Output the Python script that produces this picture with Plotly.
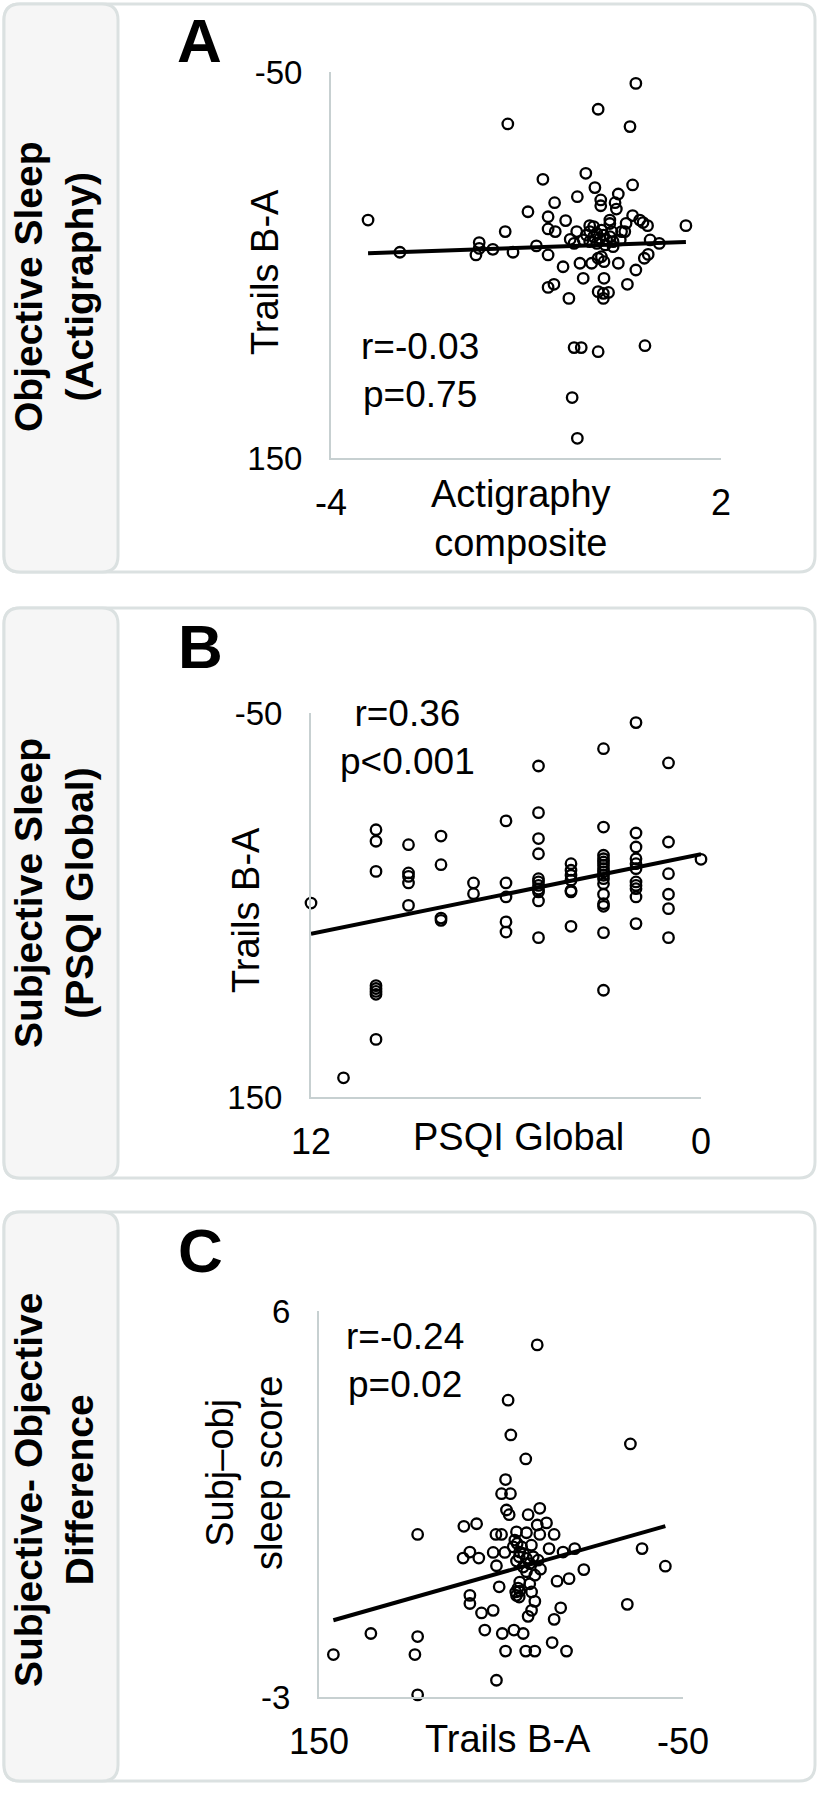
import plotly.graph_objects as go

W, H = 819, 1813

# ---------------- Panel A: Actigraphy composite vs Trails B-A ----------------
act_composite = [0.69, 0.11, -1.28, 0.60, -0.08, -0.74, 0.64, 0.06, 0.42, -0.21,
                 0.15, -0.56, 0.15, 0.37, 0.39, -0.97, -0.66, -0.39, -3.43, 0.64,
                 0.75, 0.87, 1.46, 0.29, 0.29, -0.02, -1.32, -0.66, -0.55, -0.22,
                 0.54, 0.80, 0.52, -0.32, -0.26, -1.72, -1.72, -1.51, -1.20, -1.77,
                 -2.94, -0.84, -0.66, 0.91, 1.05, 0.88, 0.82, 0.34, 0.16, 0.11,
                 0.01, -0.17, -0.43, 0.42, 0.20, 0.69, -0.12, 0.20, -0.66, -0.57,
                 0.56, 0.11, 0.19, 0.27, 0.19, -0.34, -0.26, -0.15, 0.11, 0.83,
                 -0.29, -0.21, -0.07, -0.02, 0.04, 0.09, 0.14, 0.19, 0.24, 0.29,
                 0.34, -0.02, 0.09, 0.22, 0.32, 0.04, 0.45, 0.47, -0.12, 0.16]
act_trails = [-44.1, -30.7, -23.1, -21.7, 2.5, 5.6, 8.5, 9.9, 13.2, 14.6,
              16.3, 17.7, 19.3, 17.7, 21.0, 22.4, 25.0, 27.0, 26.7, 24.4,
              26.7, 29.6, 29.6, 26.7, 28.5, 29.6, 32.7, 31.3, 32.7, 32.7,
              28.4, 28.0, 32.7, 36.7, 38.8, 38.4, 41.4, 41.9, 43.4, 44.8,
              43.4, 40.1, 44.8, 37.0, 38.8, 44.5, 46.5, 40.5, 45.7, 46.5,
              49.1, 49.1, 50.9, 49.1, 48.3, 52.6, 56.9, 56.9, 61.6, 60.0,
              60.0, 63.8, 64.7, 64.2, 67.3, 67.3, 92.8, 92.8, 94.9, 91.8,
              118.7, 139.8, 34.5, 32.7, 35.3, 33.6, 36.2, 34.5, 37.0, 35.3,
              37.9, 37.9, 38.8, 39.6, 32.7, 30.1, 37.0, 32.7, 37.0, 31.9]
fit_A = {"intercept": 39.8, "slope": -1.2}
stats_A = "r=-0.03<br>p=0.75"

# ---------------- Panel B: PSQI Global vs Trails B-A ----------------
psqi_global = ([12] + [11] + [10] * 8 + [9] * 5 + [8] * 4 + [7] * 2 + [6] * 5 +
               [5] * 11 + [4] * 7 + [3] * 16 + [2] * 11 + [1] * 6 + [0])
psqi_trails = [49,
               140,
               10.8, 16.8, 32.5, 92, 93.5, 95, 96.5, 120,
               18.6, 33.3, 35.1, 38.5, 50.2,
               14.1, 29.0, 56.8, 58.0,
               38.5, 44.1,
               6.2, 38.5, 45.8, 58.8, 64.1,
               -22.4, 1.9, 15.4, 23.3, 36.3, 38.0, 39.8, 41.8, 43.2, 47.9, 67.0,
               28.5, 31.9, 34.5, 37.1, 42.4, 43.2, 61.1,
               -31.4, 9.4, 24.1, 25.9, 27.6, 29.3, 31.1, 32.8, 34.5, 36.3, 38.9, 44.4, 49.3, 50.7, 64.4, 94.4,
               -45, 12.5, 19.8, 25.9, 28.5, 31.1, 38.0, 39.8, 41.5, 45.8, 59.7,
               -24, 17.2, 33.7, 44.4, 51.9, 67.0,
               26.2]
fit_B = {"intercept": 23.6, "slope": 3.45}
stats_B = "r=0.36<br>p&lt;0.001"

# ---------------- Panel C: Trails B-A vs Subj-obj sleep score ----------------
diff_trails = [30.1, 46.1, 44.6, 36.4, -21.1, 47.5, 49.7, 44.8, 47.0, 45.5,
               28.7, 35.1, 70.4, 63.4, 95.8, 25.0, 30.1, 52.8, 49.7, 41.5,
               36.0, 28.7, 20.8, 41.1, 33.3, 23.6, 15.9, 9.5, 67.1, 70.8,
               62.2, 54.3, 47.9, 39.7, 41.5, 36.0, 29.6, 52.5, -27.5, -40.3,
               4.5, 28.3, 36.0, 31.4, 12.6, 19.2, 39.7, 34.2, 51.0, 40.6,
               39.7, 33.2, 41.5, 67.1, 67.1, 31.4, -19.4, 17.2, 54.3, 60.7,
               33.2, 35.1, 20.8, 121.5, 95.8, 58.9, 49.3, 42.9, 37.8, 21.9,
               142.1, 97.3, 47.5, 36.4, 31.4, 14.0, 52.5, 95.8, 42.4, 38.7,
               37.5, 40.0, 34.2, 37.8, 43.3, 32.3, 41.9, 40.0]
diff_score = [5.21, 3.92, 3.11, 2.55, 2.90, 2.07, 1.74, 1.74, 1.36, 1.25,
              1.40, 1.25, 0.98, 1.04, 0.79, 1.06, 1.01, 0.79, 0.79, 0.85,
              0.83, 0.79, 0.79, 0.58, 0.54, 0.46, 0.38, 0.46, 0.38, 0.24,
              0.24, 0.37, 0.37, 0.38, 0.17, 0.23, 0.19, 0.06, 0.46, 0.05,
              -0.03, -0.02, -0.08, -0.16, -0.24, -0.30, -0.32, -0.36, -0.43, -0.46,
              -0.53, -0.55, -0.63, -0.63, -0.82, -0.77, -0.84, -0.92, -0.98, -1.04,
              -0.98, -1.12, -1.19, -1.52, -1.59, -1.44, -1.52, -1.44, -1.52, -1.73,
              -2.01, -2.01, -1.93, -1.93, -1.93, -1.93, -2.61, -2.95, 0.66, 0.50,
              0.34, 0.27, 0.11, 0.03, 0.50, 0.27, -0.55, -0.67]
fit_C = {"intercept": 0.50, "slope": -0.01203}
stats_C = "r=-0.24<br>p=0.02"

# ---------------- Text ----------------
panel_letters = ["A", "B", "C"]
row_labels = ["Objective Sleep<br>(Actigraphy)",
              "Subjective Sleep<br>(PSQI Global)",
              "Subjective- Objective<br>Difference"]
x_titles = ["Actigraphy<br>composite", "PSQI Global", "Trails B-A"]
y_titles = ["Trails B-A", "Trails B-A", "Subj–obj<br>sleep score"]
x_ticks = [([-4, 2], ["-4", "2"]), ([12, 0], ["12", "0"]), ([150, -50], ["150", "-50"])]
y_ticks = [([-50, 150], ["-50", "150"]), ([-50, 150], ["-50", "150"]), ([6, -3], ["6", "-3"])]
x_ranges = [[-4, 2], [12, 0], [150, -50]]
y_ranges = [[150, -50], [150, -50], [-3, 6]]

# ---------------- Layout geometry (pixels) ----------------
FONT = "Liberation Sans, Arial, sans-serif"
GREY_LINE = "#dbe1e1"
AXIS_LINE = "#c7d0d1"


def X(p):
    return p / W


def Y(p):
    return 1 - p / H


def rrect(x0, y0, x1, y1, r):
    return (f"M {X(x0 + r)},{Y(y0)} L {X(x1 - r)},{Y(y0)} "
            f"Q {X(x1)},{Y(y0)} {X(x1)},{Y(y0 + r)} L {X(x1)},{Y(y1 - r)} "
            f"Q {X(x1)},{Y(y1)} {X(x1 - r)},{Y(y1)} L {X(x0 + r)},{Y(y1)} "
            f"Q {X(x0)},{Y(y1)} {X(x0)},{Y(y1 - r)} L {X(x0)},{Y(y0 + r)} "
            f"Q {X(x0)},{Y(y0)} {X(x0 + r)},{Y(y0)} Z")


panel_box = [(4, 572), (608, 1178), (1212, 1781)]
plot_px = [(331, 721, 72, 458), (311, 701, 713, 1097), (319, 683, 1311, 1697)]

fig = go.Figure()

datasets = [(act_composite, act_trails, fit_A),
            (psqi_global, psqi_trails, fit_B),
            (diff_trails, diff_score, fit_C)]

shapes = []
annotations = []

for i, (xs, ys, fit) in enumerate(datasets):
    n = "" if i == 0 else str(i + 1)
    xa, ya = "x" + n, "y" + n
    fig.add_trace(go.Scatter(
        x=xs, y=ys, mode="markers", xaxis=xa, yaxis=ya, cliponaxis=False,
        marker=dict(symbol="circle-open", size=10.5, color="black",
                    line=dict(color="black", width=2.3)),
        showlegend=False, hoverinfo="skip"))
    x_lo, x_hi = min(xs), max(xs)
    fig.add_trace(go.Scatter(
        x=[x_lo, x_hi],
        y=[fit["intercept"] + fit["slope"] * x_lo, fit["intercept"] + fit["slope"] * x_hi],
        mode="lines", xaxis=xa, yaxis=ya, cliponaxis=False,
        line=dict(color="black", width=4), showlegend=False, hoverinfo="skip"))

    x0, x1, y0, y1 = plot_px[i]
    fig.update_layout(**{
        "xaxis" + n: dict(domain=[X(x0), X(x1)], range=x_ranges[i], anchor=ya,
                          automargin=False,
                          showline=True, linecolor=AXIS_LINE, linewidth=2,
                          showgrid=False, zeroline=False,
                          tickvals=x_ticks[i][0], ticktext=x_ticks[i][1],
                          ticks="outside", ticklen=12, tickcolor="rgba(0,0,0,0)",
                          tickfont=dict(family=FONT, size=36, color="black")),
        "yaxis" + n: dict(domain=[Y(y1), Y(y0)], range=y_ranges[i], anchor=xa,
                          automargin=False,
                          showline=True, linecolor=AXIS_LINE, linewidth=2,
                          showgrid=False, zeroline=False,
                          tickvals=y_ticks[i][0], ticktext=y_ticks[i][1],
                          ticks="outside", ticklen=20, tickcolor="rgba(0,0,0,0)",
                          tickfont=dict(family=FONT, size=33, color="black")),
    })

    top, bot = panel_box[i]
    shapes.append(dict(type="path", xref="paper", yref="paper", layer="below",
                       path=rrect(4, top, 815, bot, 16), fillcolor="white",
                       line=dict(color=GREY_LINE, width=3)))
    shapes.append(dict(type="path", xref="paper", yref="paper", layer="below",
                       path=rrect(4, top, 118, bot, 16), fillcolor="#f6f6f6",
                       line=dict(color=GREY_LINE, width=3)))

# text positions (pixels)
letter_pos = [(199, 40), (200, 646), (200, 1250)]
row_label_pos = [(54, 287), (54, 893), (54, 1490)]
ytitle_pos = [(265, 272), (246, 910), (244, 1473)]
xtitle_pos = [(521, 518), (518, 1137), (508, 1739)]
stats_pos = [(420, 370), (407, 738), (405, 1360)]
stats_text = [stats_A, stats_B, stats_C]


def ann(text, x, y, size, bold=False, angle=0, align="center"):
    return dict(text=f"<b>{text}</b>" if bold else text, x=X(x), y=Y(y),
                xref="paper", yref="paper", showarrow=False, xanchor="center",
                yanchor="middle", textangle=angle, align=align,
                font=dict(family=FONT, size=size, color="black"))


for i in range(3):
    annotations.append(ann(panel_letters[i], *letter_pos[i], 62, bold=True))
    annotations.append(ann(row_labels[i], *row_label_pos[i], 39, bold=True, angle=-90))
    annotations.append(ann(y_titles[i], *ytitle_pos[i], 38, angle=-90))
    annotations.append(ann(x_titles[i], *xtitle_pos[i], 38))
    annotations.append(ann(stats_text[i], *stats_pos[i], 37))

fig.update_layout(width=W, height=H, margin=dict(l=0, r=0, t=0, b=0, pad=0),
                  autosize=False, hovermode=False,
                  paper_bgcolor="white", plot_bgcolor="rgba(0,0,0,0)",
                  shapes=shapes, annotations=annotations, showlegend=False)

fig.write_html("out.html",
               config={"displayModeBar": False, "staticPlot": True},
               post_script="document.body.style.margin='0';document.body.style.overflow='hidden';")
